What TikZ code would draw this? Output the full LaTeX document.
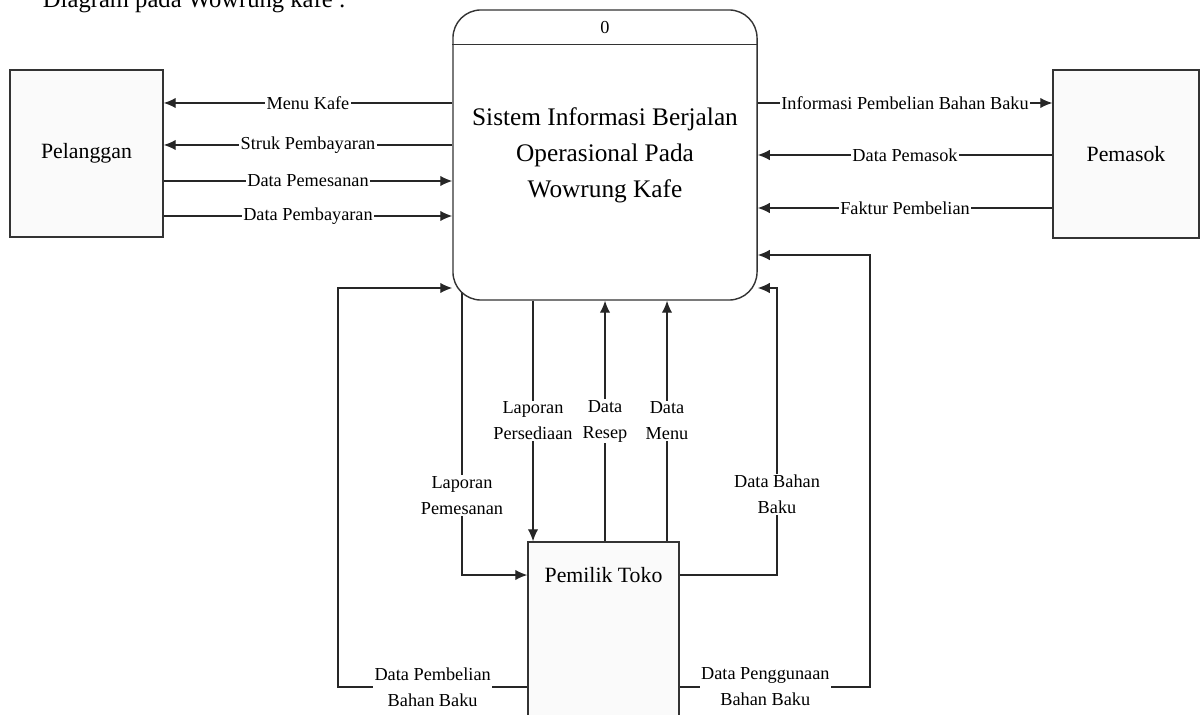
\documentclass[tikz,border=0pt]{standalone}
\usepackage{fontspec}
\setmainfont{Liberation Serif}
\usetikzlibrary{arrows.meta,calc,backgrounds}

\tikzset{
    entity/.style={draw=black!80, line width=1pt, fill=black!2, font=\fontsize{15.5}{18}\selectfont},
    process/.style={draw=black!80, line width=1pt, fill=white, rounded corners=0.7cm, align=center, font=\fontsize{18}{25.6}\selectfont},
    flow/.style={draw=black!85, line width=0.9pt, -{Latex[length=3mm,width=2.6mm]}},
    lbl/.style={fill=white, inner sep=1pt, align=center, font=\fontsize{13}{18.5}\selectfont}
}

\begin{document}
\begin{tikzpicture}[x=0.025cm, y=-0.025cm]
    \useasboundingbox (0,0) rectangle (1202,715);
    \node[anchor=base west, font=\fontsize{17.5}{20}\selectfont] (caption) at (38,8) {Diagram pada Wowrung kafe :};
    \node[entity, minimum width=3.825cm, minimum height=4.175cm] (pel) at (86.5,153.5) {Pelanggan};
    \node[entity, minimum width=3.65cm, minimum height=4.2cm] (pem) at (1126,154) {Pemasok};
    \node[process, minimum width=7.6cm, minimum height=7.25cm] (sys) at (605,155) {Sistem Informasi Berjalan\\Operasional Pada\\Wowrung Kafe};
    \draw[draw=black!80, line width=1pt] ($(sys.north west)+(0,35)$) -- ($(sys.north east)+(0,35)$);
    \node[font=\fontsize{13}{15}\selectfont] (sysno) at (605,28) {0};
    \node[entity, minimum width=3.775cm, minimum height=4.6cm, text height=.4cm, text depth=2.95cm] (toko) at (603.5,634) {Pemilik Toko};
    \begin{scope}[on background layer]
        \draw[flow] (sys.west |- 0,103) -- node[lbl] {Menu Kafe} (pel.east |- 0,103);
        \draw[flow] (sys.west |- 0,145) -- node[lbl] {Struk Pembayaran} (pel.east |- 0,145);
        \draw[flow] (pel.east |- 0,181) -- node[lbl] {Data Pemesanan} (sys.west |- 0,181);
        \draw[flow] (pel.east |- 0,216) -- node[lbl] {Data Pembayaran} (sys.west |- 0,216);
        \draw[flow] (sys.east |- 0,103) -- node[lbl] {Informasi Pembelian Bahan Baku} (pem.west |- 0,103);
        \draw[flow] (pem.west |- 0,155) -- node[lbl] {Data Pemasok} (sys.east |- 0,155);
        \draw[flow] (pem.west |- 0,208) -- node[lbl] {Faktur Pembelian} (sys.east |- 0,208);
        \draw[flow] ($(sys.south -| 462,0)+(0,-8)$) |- node[lbl, pos=.36] {Laporan\\Pemesanan} (toko.west |- 0,575);
        \draw[flow] (sys.south -| 533,0) -- node[lbl] {Laporan\\Persediaan} (toko.north -| 533,0);
        \draw[flow] (toko.north -| 605,0) -- node[lbl] {Data\\Resep} (sys.south -| 605,0);
        \draw[flow] (toko.north -| 667,0) -- node[lbl] {Data\\Menu} (sys.south -| 667,0);
        \draw[flow] (toko.east |- 0,575) -| node[lbl, pos=.64] {Data Bahan\\Baku} (777,288) -- (sys.east |- 0,288);
        \draw[flow] (toko.east |- 0,687) -| node[lbl, pos=.225] {Data Penggunaan\\Bahan Baku} (870,255) -- (sys.east |- 0,255);
        \draw[flow] (toko.west |- 0,687) -| node[lbl, pos=.25] {Data Pembelian\\Bahan Baku} (338,288) -- (sys.west |- 0,288);
    \end{scope}
\end{tikzpicture}
\end{document}
